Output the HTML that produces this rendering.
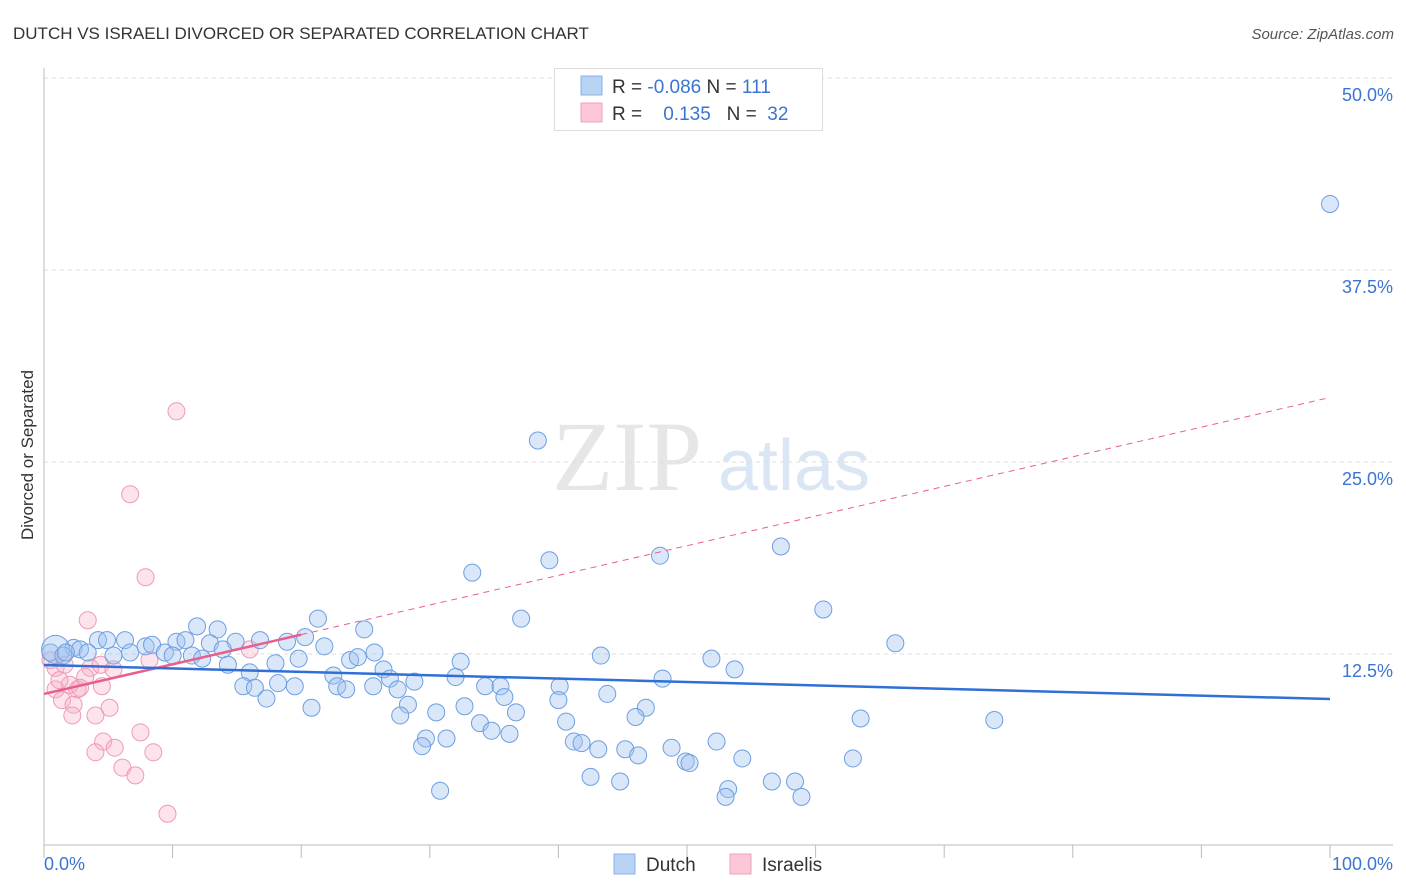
<!DOCTYPE html>
<html><head><meta charset="utf-8"><style>
body{margin:0;background:#fff;font-family:"Liberation Sans",sans-serif;}
svg{display:block}
</style></head><body>
<svg id="chart" width="1406" height="892">
<text x="13" y="39" font-size="17" fill="#333">DUTCH VS ISRAELI DIVORCED OR SEPARATED CORRELATION CHART</text>
<text x="1394" y="39" font-size="15" fill="#555" font-style="italic" text-anchor="end">Source: ZipAtlas.com</text>
<text transform="translate(33,455) rotate(-90)" font-size="17" fill="#333" text-anchor="middle">Divorced or Separated</text>
<g>
<text x="552" y="490" font-size="100" fill="#e6e6e6" font-family="Liberation Serif,serif">ZIP</text>
<text x="718" y="490" font-size="72" fill="#dbe6f5">atlas</text>
</g>
<g id="grid"></g><g id="axes"></g><g id="marks"></g>
<g>
<rect x="554.500" y="68.500" width="268" height="62" fill="#fff" stroke="#ddd"/>
<rect x="581" y="76" width="21" height="19" fill="#b9d3f5" stroke="#8ab2e8"/>
<rect x="581" y="103" width="21" height="19" fill="#fcc8d8" stroke="#f0a0b8"/>
<text x="612" y="93" font-size="19" fill="#333">R = <tspan fill="#3b74d1">-0.086</tspan>   N = <tspan fill="#3b74d1">111</tspan></text>
<text x="612" y="120" font-size="19" fill="#333" xml:space="preserve">R =    <tspan fill="#3b74d1">0.135</tspan>   N =  <tspan fill="#3b74d1">32</tspan></text>
</g>
<g>
<rect x="614" y="854" width="21" height="20" fill="#b9d3f5" stroke="#8ab2e8"/>
<text x="646" y="871" font-size="19" fill="#333">Dutch</text>
<rect x="730" y="854" width="21" height="20" fill="#fcc8d8" stroke="#f0a0b8"/>
<text x="762" y="871" font-size="19" fill="#333">Israelis</text>
</g>
</svg>
<script>
const yTicks=[12.5,25,37.5,50];
const yTickLabels=["12.5%","25.0%","37.5%","50.0%"];
const xTickLabels=["0.0%","100.0%"];
const dutchX=[100,38.4,39.3,47.9,57.3,33.3,60.6,37.1,21.3,66.2,24.9,43.3,51.9,53.7,32.4,48.1,40.1,43.8,46.8,46.0,40.0,63.5,73.9,30.5,32.7,36.7,33.9,34.8,36.2,40.6,41.2,41.8,29.7,31.3,29.4,43.1,45.2,46.2,48.8,49.9,50.2,52.3,54.3,62.9,42.5,44.8,53.2,53.0,56.6,58.4,58.9,30.8,11.9,13.5,4.2,4.9,6.3,10.3,11.0,12.9,14.9,16.8,18.9,20.3,21.8,2.3,2.8,3.4,5.4,6.7,7.9,8.4,9.4,10.0,11.5,12.3,13.9,14.3,16.0,18.0,19.8,23.8,24.4,25.7,26.4,26.9,28.8,32.0,22.5,22.8,23.5,25.6,27.5,28.3,27.7,34.3,35.5,35.8,15.5,16.4,18.2,19.5,17.3,20.8,0.5,0.9,1.5,1.7];
const dutchY=[41.8,26.4,18.6,18.9,19.5,17.8,15.4,14.8,14.8,13.2,14.1,12.4,12.2,11.5,12.0,10.9,10.4,9.9,9.0,8.4,9.5,8.3,8.2,8.7,9.1,8.7,8.0,7.5,7.3,8.1,6.8,6.7,7.0,7.0,6.5,6.3,6.3,5.9,6.4,5.5,5.4,6.8,5.7,5.7,4.5,4.2,3.7,3.2,4.2,4.2,3.2,3.6,14.3,14.1,13.4,13.4,13.4,13.3,13.4,13.2,13.3,13.4,13.3,13.6,13.0,12.9,12.8,12.6,12.4,12.6,13.0,13.1,12.6,12.4,12.4,12.2,12.8,11.8,11.3,11.9,12.2,12.1,12.3,12.6,11.5,10.9,10.7,11.0,11.1,10.4,10.2,10.4,10.2,9.2,8.5,10.4,10.4,9.7,10.4,10.3,10.6,10.4,9.6,9.0,12.6,12.8,12.4,12.6];
const israeliX=[10.3,6.7,7.9,3.4,0.5,0.9,1.6,3.6,2.6,2.0,4.4,5.4,3.2,0.9,1.4,4.5,5.1,2.3,2.2,4.0,7.5,4.6,5.5,8.5,4.0,6.1,7.1,9.6,16.0,8.2,1.2,2.8];
const israeliY=[28.3,22.9,17.5,14.7,12.1,11.6,11.8,11.6,10.2,10.5,11.8,11.5,11.0,10.2,9.5,10.4,9.0,9.2,8.5,8.5,7.4,6.8,6.4,6.1,6.1,5.1,4.6,2.1,12.8,12.1,10.8,10.3];
const dutchTrend=[11.78,9.57];
const israeliTrend=[9.9,29.2];
const israeliSolidEnd=20;
const NS="http://www.w3.org/2000/svg";
const X=v=>44+v*12.86, Y=v=>846-v*15.36;
function mk(tag,attrs,parent){const e=document.createElementNS(NS,tag);for(const k in attrs)e.setAttribute(k,attrs[k]);parent.appendChild(e);return e;}
const grid=document.getElementById('grid'),axes=document.getElementById('axes'),marks=document.getElementById('marks');
yTicks.forEach((t,i)=>{
 const l=mk('line',{x1:44,x2:1393,y1:Y(t),y2:Y(t),stroke:'#ddd','stroke-dasharray':'4,4'},grid);
 
 
 const tx=mk('text',{x:1393,y:Y(t)+23,'font-size':18,fill:'#3b74d1','text-anchor':'end'},axes);
 tx.textContent=yTickLabels[i];
 
 
});
const va=mk('line',{x1:44,x2:44,y1:68,y2:845,stroke:'#bbb'},axes);


const ha=mk('line',{x1:44,x2:1393,y1:845,y2:845,stroke:'#bbb'},axes);


for(let i=0;i<=10;i++){const t=mk('line',{x1:X(i*10),x2:X(i*10),y1:845,y2:858,stroke:'#bbb'},axes);
 
 }
const xl0=mk('text',{x:44,y:870,'font-size':18,fill:'#3b74d1'},axes);xl0.textContent=xTickLabels[0];


const xl1=mk('text',{x:1393,y:870,'font-size':18,fill:'#3b74d1','text-anchor':'end'},axes);xl1.textContent=xTickLabels[1];


israeliX.forEach((x,i)=>{const c=mk('circle',{cx:X(x),cy:Y(israeliY[i]),r:8.5,fill:'rgba(247,175,200,0.35)',stroke:'#f09ab5','stroke-width':1},marks);
 
 });
dutchX.forEach((x,i)=>{const c=mk('circle',{cx:X(x),cy:Y(dutchY[i]),r:(i===dutchX.length-3?14:8.5),fill:'rgba(160,195,240,0.4)',stroke:'#6d9fe2','stroke-width':1},marks);
 
 });
const slope=(israeliTrend[1]-israeliTrend[0])/100;
const ps=mk('line',{x1:X(0),y1:Y(israeliTrend[0]),x2:X(israeliSolidEnd),y2:Y(israeliTrend[0]+slope*israeliSolidEnd),stroke:'#e8608a','stroke-width':2.5},marks);


const pd=mk('line',{x1:X(israeliSolidEnd),y1:Y(israeliTrend[0]+slope*israeliSolidEnd),x2:X(100),y2:Y(israeliTrend[1]),stroke:'#e8608a','stroke-width':1,'stroke-dasharray':'6,5'},marks);


const bl=mk('line',{x1:X(0),y1:Y(dutchTrend[0]),x2:X(100),y2:Y(dutchTrend[1]),stroke:'#2f6fd6','stroke-width':2.5},marks);


</script>
</body></html>
